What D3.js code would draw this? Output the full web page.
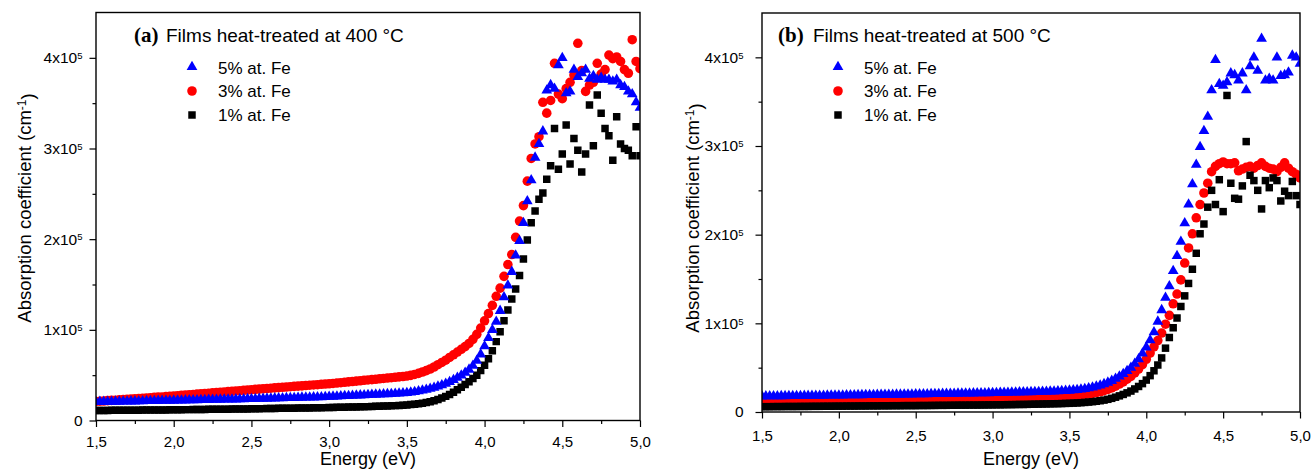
<!DOCTYPE html>
<html>
<head>
<meta charset="utf-8">
<script src="https://cdn.jsdelivr.net/npm/d3@7"></script>
<style>
  body { margin: 0; background: #fff; }
  svg text { font-family: Arial, "Liberation Sans", sans-serif; fill: #000; }
</style>
</head>
<body>
<div id="chart"></div>
<script>
// photon energy (eV), shared by all six series
const energy = [
  1.5, 1.525, 1.55, 1.575, 1.6, 1.625, 1.65, 1.675, 1.7, 1.725, 1.75, 1.775, 1.8, 1.825, 1.85, 1.875, 1.9, 1.925, 1.95, 1.975, 2.0,
  2.025, 2.05, 2.075, 2.1, 2.125, 2.15, 2.175, 2.2, 2.225, 2.25, 2.275, 2.3, 2.325, 2.35, 2.375, 2.4, 2.425, 2.45, 2.475, 2.5,
  2.525, 2.55, 2.575, 2.6, 2.625, 2.65, 2.675, 2.7, 2.725, 2.75, 2.775, 2.8, 2.825, 2.85, 2.875, 2.9, 2.925, 2.95, 2.975, 3.0,
  3.025, 3.05, 3.075, 3.1, 3.125, 3.15, 3.175, 3.2, 3.225, 3.25, 3.275, 3.3, 3.325, 3.35, 3.375, 3.4, 3.425, 3.45, 3.475, 3.5,
  3.525, 3.55, 3.575, 3.6, 3.625, 3.65, 3.675, 3.7, 3.725, 3.75, 3.775, 3.8, 3.825, 3.85, 3.875, 3.9, 3.925, 3.95, 3.975, 4.0,
  4.025, 4.05, 4.075, 4.1, 4.125, 4.15, 4.175, 4.2, 4.225, 4.25, 4.275, 4.3, 4.325, 4.35, 4.375, 4.4, 4.425, 4.45, 4.475, 4.5,
  4.525, 4.55, 4.575, 4.6, 4.625, 4.65, 4.675, 4.7, 4.725, 4.75, 4.775, 4.8, 4.825, 4.85, 4.875, 4.9, 4.925, 4.95, 4.975, 5.0
];

// absorption coefficient, in 10^4 cm^-1
// (a) 400 °C
const alpha5_400 = [
  2.05, 2.06, 2.06, 2.07, 2.08, 2.09, 2.09, 2.10, 2.11, 2.12, 2.12, 2.13, 2.14, 2.15, 2.15, 2.16, 2.17, 2.18, 2.18, 2.19, 2.20,
  2.21, 2.22, 2.23, 2.24, 2.25, 2.25, 2.26, 2.27, 2.28, 2.29, 2.30, 2.31, 2.32, 2.33, 2.33, 2.34, 2.35, 2.36, 2.37, 2.38,
  2.39, 2.40, 2.41, 2.42, 2.44, 2.45, 2.46, 2.47, 2.48, 2.49, 2.50, 2.51, 2.53, 2.54, 2.55, 2.56, 2.57, 2.58, 2.60, 2.62,
  2.64, 2.66, 2.68, 2.70, 2.72, 2.74, 2.76, 2.78, 2.80, 2.82, 2.84, 2.86, 2.88, 2.90, 2.92, 2.94, 2.96, 2.98, 3.01, 3.05,
  3.10, 3.16, 3.23, 3.31, 3.40, 3.50, 3.62, 3.75, 3.90, 4.07, 4.26, 4.48, 4.72, 4.98, 5.28, 5.62, 6.05, 6.60, 7.30, 8.20,
  9.10, 10.0, 10.9, 12.1, 13.6, 14.9, 16.4, 18.2, 19.8, 21.8, 24.2, 26.5, 29.0, 30.5, 31.9, 36.4, 37.0, 36.6, 39.2, 40.0,
  36.1, 36.3, 38.7, 37.9, 38.3, 38.7, 37.7, 38.0, 37.6, 37.8, 37.6, 37.6, 37.4, 37.6, 37.0, 36.8, 36.3, 36.0, 35.1, 34.5
];
const alpha3_400 = [
  2.10, 2.13, 2.15, 2.19, 2.22, 2.24, 2.28, 2.31, 2.33, 2.37, 2.40, 2.42, 2.46, 2.49, 2.51, 2.55, 2.58, 2.60, 2.64, 2.67, 2.70,
  2.73, 2.77, 2.80, 2.84, 2.87, 2.91, 2.94, 2.98, 3.01, 3.05, 3.08, 3.12, 3.15, 3.19, 3.22, 3.26, 3.29, 3.33, 3.36, 3.40,
  3.43, 3.46, 3.50, 3.53, 3.56, 3.60, 3.63, 3.66, 3.69, 3.73, 3.76, 3.79, 3.82, 3.86, 3.89, 3.92, 3.95, 3.99, 4.02, 4.05,
  4.09, 4.13, 4.17, 4.21, 4.26, 4.30, 4.34, 4.38, 4.43, 4.47, 4.51, 4.55, 4.60, 4.64, 4.68, 4.72, 4.77, 4.81, 4.85, 4.90,
  4.98, 5.08, 5.20, 5.35, 5.50, 5.68, 5.90, 6.15, 6.40, 6.65, 6.95, 7.25, 7.55, 7.85, 8.15, 8.50, 8.95, 9.50, 10.2, 11.0,
  11.8, 12.7, 13.7, 14.6, 15.9, 17.2, 18.3, 20.2, 22.0, 23.7, 26.4, 28.9, 30.5, 31.3, 35.1, 33.9, 35.3, 39.4, 36.0, 35.5,
  36.6, 37.3, 38.1, 41.6, 38.6, 36.3, 37.0, 37.3, 39.4, 38.2, 38.7, 40.3, 39.9, 40.1, 39.6, 38.7, 38.3, 42.0, 39.6, 38.8
];
const alpha1_400 = [
  1.10, 1.10, 1.11, 1.11, 1.12, 1.12, 1.12, 1.13, 1.13, 1.14, 1.14, 1.14, 1.15, 1.15, 1.16, 1.16, 1.16, 1.17, 1.17, 1.18, 1.18,
  1.19, 1.19, 1.20, 1.20, 1.21, 1.21, 1.22, 1.22, 1.23, 1.23, 1.24, 1.24, 1.25, 1.25, 1.26, 1.26, 1.27, 1.27, 1.28, 1.29,
  1.30, 1.30, 1.31, 1.32, 1.32, 1.33, 1.34, 1.34, 1.35, 1.36, 1.36, 1.37, 1.38, 1.38, 1.39, 1.40, 1.40, 1.41, 1.42, 1.43,
  1.44, 1.45, 1.46, 1.47, 1.48, 1.49, 1.50, 1.51, 1.52, 1.53, 1.55, 1.56, 1.57, 1.59, 1.60, 1.62, 1.64, 1.66, 1.69, 1.72,
  1.76, 1.80, 1.85, 1.91, 1.98, 2.07, 2.18, 2.31, 2.47, 2.66, 2.88, 3.12, 3.38, 3.66, 3.96, 4.28, 4.62, 5.00, 5.50, 6.10,
  6.8, 7.7, 8.7, 9.8, 11.0, 12.2, 13.4, 14.5, 16.0, 17.8, 19.9, 21.8, 23.1, 24.4, 25.1, 26.6, 28.1, 32.2, 27.7, 29.4,
  32.6, 28.3, 31.1, 29.8, 27.4, 29.4, 34.8, 30.3, 35.9, 33.9, 32.2, 31.4, 28.7, 33.5, 30.5, 30.0, 29.8, 29.2, 32.4, 29.2
];

// (b) 500 °C
const alpha5_500 = [
  1.77, 1.78, 1.78, 1.79, 1.79, 1.80, 1.80, 1.81, 1.81, 1.82, 1.82, 1.83, 1.83, 1.84, 1.84, 1.85, 1.85, 1.86, 1.86, 1.87, 1.88,
  1.88, 1.89, 1.89, 1.90, 1.91, 1.91, 1.92, 1.92, 1.93, 1.94, 1.94, 1.95, 1.95, 1.96, 1.97, 1.97, 1.98, 1.98, 1.99, 2.00,
  2.01, 2.01, 2.02, 2.03, 2.04, 2.04, 2.05, 2.06, 2.07, 2.07, 2.08, 2.09, 2.10, 2.10, 2.11, 2.12, 2.13, 2.13, 2.14, 2.15,
  2.16, 2.17, 2.18, 2.19, 2.20, 2.21, 2.22, 2.23, 2.24, 2.25, 2.26, 2.27, 2.29, 2.30, 2.32, 2.33, 2.35, 2.37, 2.39, 2.42,
  2.46, 2.50, 2.55, 2.61, 2.68, 2.77, 2.88, 3.00, 3.15, 3.32, 3.52, 3.75, 4.01, 4.30, 4.63, 5.00, 5.45, 5.95, 6.60, 7.30,
  8.10, 9.00, 10.2, 11.5, 12.9, 14.2, 15.9, 17.6, 19.2, 21.3, 23.4, 25.7, 27.9, 29.9, 31.7, 33.3, 36.3, 39.7, 37.0, 36.8,
  37.2, 38.2, 38.0, 37.4, 38.2, 36.3, 39.0, 40.0, 38.5, 42.1, 37.4, 37.6, 37.4, 40.0, 37.9, 38.0, 38.3, 40.2, 40.0, 39.3
];
const alpha3_500 = [
  1.10, 1.11, 1.11, 1.12, 1.12, 1.13, 1.13, 1.14, 1.14, 1.15, 1.15, 1.16, 1.17, 1.17, 1.18, 1.18, 1.19, 1.20, 1.20, 1.21, 1.22,
  1.22, 1.23, 1.24, 1.24, 1.25, 1.26, 1.26, 1.27, 1.28, 1.28, 1.29, 1.30, 1.30, 1.31, 1.32, 1.33, 1.33, 1.34, 1.35, 1.36,
  1.36, 1.37, 1.38, 1.39, 1.39, 1.40, 1.41, 1.42, 1.43, 1.43, 1.44, 1.45, 1.46, 1.47, 1.47, 1.48, 1.49, 1.50, 1.51, 1.52,
  1.53, 1.54, 1.55, 1.56, 1.57, 1.58, 1.59, 1.60, 1.61, 1.62, 1.63, 1.64, 1.66, 1.67, 1.69, 1.70, 1.72, 1.74, 1.77, 1.80,
  1.83, 1.87, 1.91, 1.96, 2.02, 2.09, 2.18, 2.28, 2.40, 2.55, 2.72, 2.92, 3.15, 3.40, 3.70, 4.02, 4.40, 4.85, 5.35, 5.95,
  6.65, 7.35, 8.05, 8.90, 9.90, 10.9, 12.2, 13.3, 14.9, 16.8, 18.5, 20.1, 21.9, 23.4, 24.7, 25.8, 27.1, 27.7, 28.0, 28.2,
  28.0, 28.0, 28.1, 27.2, 27.4, 27.6, 27.7, 27.5, 27.8, 28.1, 27.7, 27.5, 27.4, 27.1, 27.6, 28.1, 27.5, 27.1, 26.8, 26.4
];
const alpha1_500 = [
  0.60, 0.60, 0.60, 0.61, 0.61, 0.61, 0.62, 0.62, 0.62, 0.62, 0.63, 0.63, 0.63, 0.64, 0.64, 0.64, 0.65, 0.65, 0.65, 0.66, 0.66,
  0.66, 0.67, 0.67, 0.67, 0.68, 0.68, 0.68, 0.69, 0.69, 0.69, 0.70, 0.70, 0.70, 0.71, 0.71, 0.71, 0.72, 0.72, 0.72, 0.72,
  0.73, 0.73, 0.73, 0.74, 0.74, 0.75, 0.75, 0.75, 0.76, 0.76, 0.77, 0.77, 0.77, 0.78, 0.78, 0.78, 0.79, 0.79, 0.80, 0.80,
  0.81, 0.81, 0.82, 0.83, 0.83, 0.84, 0.85, 0.85, 0.86, 0.87, 0.88, 0.89, 0.90, 0.91, 0.92, 0.93, 0.94, 0.95, 0.97, 0.98,
  1.00, 1.02, 1.05, 1.08, 1.12, 1.16, 1.21, 1.27, 1.34, 1.43, 1.54, 1.67, 1.82, 1.98, 2.16, 2.36, 2.60, 2.88, 3.20, 3.60,
  4.10, 4.65, 5.30, 6.10, 7.20, 8.40, 9.50, 10.6, 11.9, 13.1, 14.5, 16.1, 17.9, 20.1, 21.2, 23.1, 25.0, 23.4, 26.2, 22.6,
  35.7, 25.8, 24.1, 24.0, 25.5, 30.5, 26.7, 26.1, 25.0, 22.9, 26.1, 25.3, 26.4, 26.1, 23.8, 24.9, 24.4, 26.0, 24.4, 23.4
];

const seriesLabels = ['5% at. Fe', '3% at. Fe', '1% at. Fe'];
const panelTags = ['(a)', '(b)'];
const panelTitles = ['Films heat-treated at 400 °C', 'Films heat-treated at 500 °C'];
const xTicks = [1.5, 2.0, 2.5, 3.0, 3.5, 4.0, 4.5, 5.0];
const xMinorTicks = [1.75, 2.25, 2.75, 3.25, 3.75, 4.25, 4.75];
const yTicks = [0, 10, 20, 30, 40];       // 10^4 cm^-1
const yMinorTicks = [5, 15, 25, 35];

const W = 1312, H = 470;
const styles = [
  { color: '#0000ff', symbol: d3.symbolTriangle, size: 50 },
  { color: '#ff0000', symbol: d3.symbolCircle, size: 72 },
  { color: '#000000', symbol: d3.symbolSquare, size: 56 }
];
// red first, then black, blue on top
const drawOrder = [1, 2, 0];

const panels = [
  { series: [alpha5_400, alpha3_400, alpha1_400], left: 96, right: 640, top: 12.5, bottom: 420.5,
    xPad: 9.5, yPad: 7, tagX: 134, titleX: 166, legX: 192, legTextX: 218,
    yLabelX: 31, yLabelY: 208, xLabelY: 465 },
  { series: [alpha5_500, alpha3_500, alpha1_500], left: 762, right: 1300, top: 13, bottom: 412,
    xPad: 11.5, yPad: 12, tagX: 778, titleX: 813, legX: 838, legTextX: 864,
    yLabelX: 699, yLabelY: 218, xLabelY: 465 }
];

const svg = d3.select('#chart').append('svg')
  .attr('width', W).attr('height', H);

panels.forEach(function(p, pi) {
  const x = d3.scaleLinear().domain([1.5, 5.0]).range([p.left, p.right]);
  const y = d3.scaleLinear().domain([0, 45]).range([p.bottom, p.top]);

  // clip for the markers
  svg.append('clipPath').attr('id', 'clip' + pi)
    .append('rect')
    .attr('x', p.left).attr('y', p.top)
    .attr('width', p.right - p.left).attr('height', p.bottom - p.top);

  const plot = svg.append('g').attr('clip-path', 'url(#clip' + pi + ')');
  drawOrder.forEach(function(si) {
    const st = styles[si];
    const sym = d3.symbol().type(st.symbol).size(st.size);
    plot.append('g').selectAll('path')
      .data(p.series[si])
      .join('path')
      .attr('d', sym)
      .attr('transform', (d, i) => 'translate(' + x(energy[i]) + ',' + y(d) + ')')
      .attr('fill', st.color);
  });

  // minor ticks
  svg.append('g')
    .attr('transform', 'translate(0,' + p.bottom + ')')
    .call(d3.axisBottom(x).tickValues(xMinorTicks).tickSize(3.5).tickFormat('').tickSizeOuter(0))
    .call(g => g.select('.domain').remove())
    .selectAll('line').attr('stroke-width', 1.2);
  svg.append('g')
    .attr('transform', 'translate(' + p.left + ',0)')
    .call(d3.axisLeft(y).tickValues(yMinorTicks).tickSize(3.5).tickFormat('').tickSizeOuter(0))
    .call(g => g.select('.domain').remove())
    .selectAll('line').attr('stroke-width', 1.2);

  // major x ticks
  const gx = svg.append('g')
    .attr('transform', 'translate(0,' + p.bottom + ')')
    .call(d3.axisBottom(x).tickValues(xTicks).tickSize(6.5).tickPadding(p.xPad)
      .tickFormat(d => d.toFixed(1).replace('.', ',')).tickSizeOuter(0));
  gx.select('.domain').remove();
  gx.selectAll('line').attr('stroke-width', 1.2);
  gx.selectAll('text').attr('font-size', 15).attr('font-family', 'Arial, "Liberation Sans", sans-serif');

  // major y ticks, labels as Nx10^5
  const gy = svg.append('g')
    .attr('transform', 'translate(' + p.left + ',0)')
    .call(d3.axisLeft(y).tickValues(yTicks).tickSize(6.5).tickPadding(p.yPad).tickSizeOuter(0));
  gy.select('.domain').remove();
  gy.selectAll('line').attr('stroke-width', 1.2);
  gy.selectAll('.tick text')
    .attr('font-size', 15.5)
    .attr('font-family', 'Arial, "Liberation Sans", sans-serif')
    .each(function(d) {
      const t = d3.select(this).text(null);
      if (d === 0) { t.text('0'); return; }
      t.append('tspan').text((d / 10) + 'x10');
      t.append('tspan').attr('dy', '-0.45em').attr('font-size', 9.5).text('5');
    });

  // frame
  svg.append('rect')
    .attr('x', p.left).attr('y', p.top)
    .attr('width', p.right - p.left).attr('height', p.bottom - p.top)
    .attr('fill', 'none').attr('stroke', '#000').attr('stroke-width', 1.4);

  // panel title
  svg.append('text')
    .attr('x', p.tagX).attr('y', 42)
    .style('font-family', '"Times New Roman", "Liberation Serif", serif')
    .style('font-weight', 'bold').style('font-size', '21px')
    .text(panelTags[pi]);
  svg.append('text')
    .attr('x', p.titleX).attr('y', 42)
    .style('font-size', '19px')
    .text(panelTitles[pi]);

  // legend
  seriesLabels.forEach(function(lab, si) {
    const st = styles[si];
    svg.append('path')
      .attr('d', d3.symbol().type(st.symbol).size(st.size)())
      .attr('transform', 'translate(' + p.legX + ',' + (67 + si * 24) + ')')
      .attr('fill', st.color);
    svg.append('text')
      .attr('x', p.legTextX).attr('y', 74 + si * 23.4)
      .style('font-size', '17px')
      .text(lab);
  });

  // axis titles
  svg.append('text')
    .attr('x', (p.left + p.right) / 2).attr('y', p.xLabelY)
    .attr('text-anchor', 'middle')
    .style('font-size', '18px')
    .text('Energy (eV)');

  const yl = svg.append('text')
    .attr('transform', 'translate(' + p.yLabelX + ',' + p.yLabelY + ') rotate(-90)')
    .attr('text-anchor', 'middle')
    .style('font-size', '18.5px');
  yl.append('tspan').text('Absorption coefficient (cm');
  yl.append('tspan').attr('dy', '-0.45em').style('font-size', '12px').text('-1');
  yl.append('tspan').attr('dy', '0.45em').text(')');
});
</script>
</body>
</html>
